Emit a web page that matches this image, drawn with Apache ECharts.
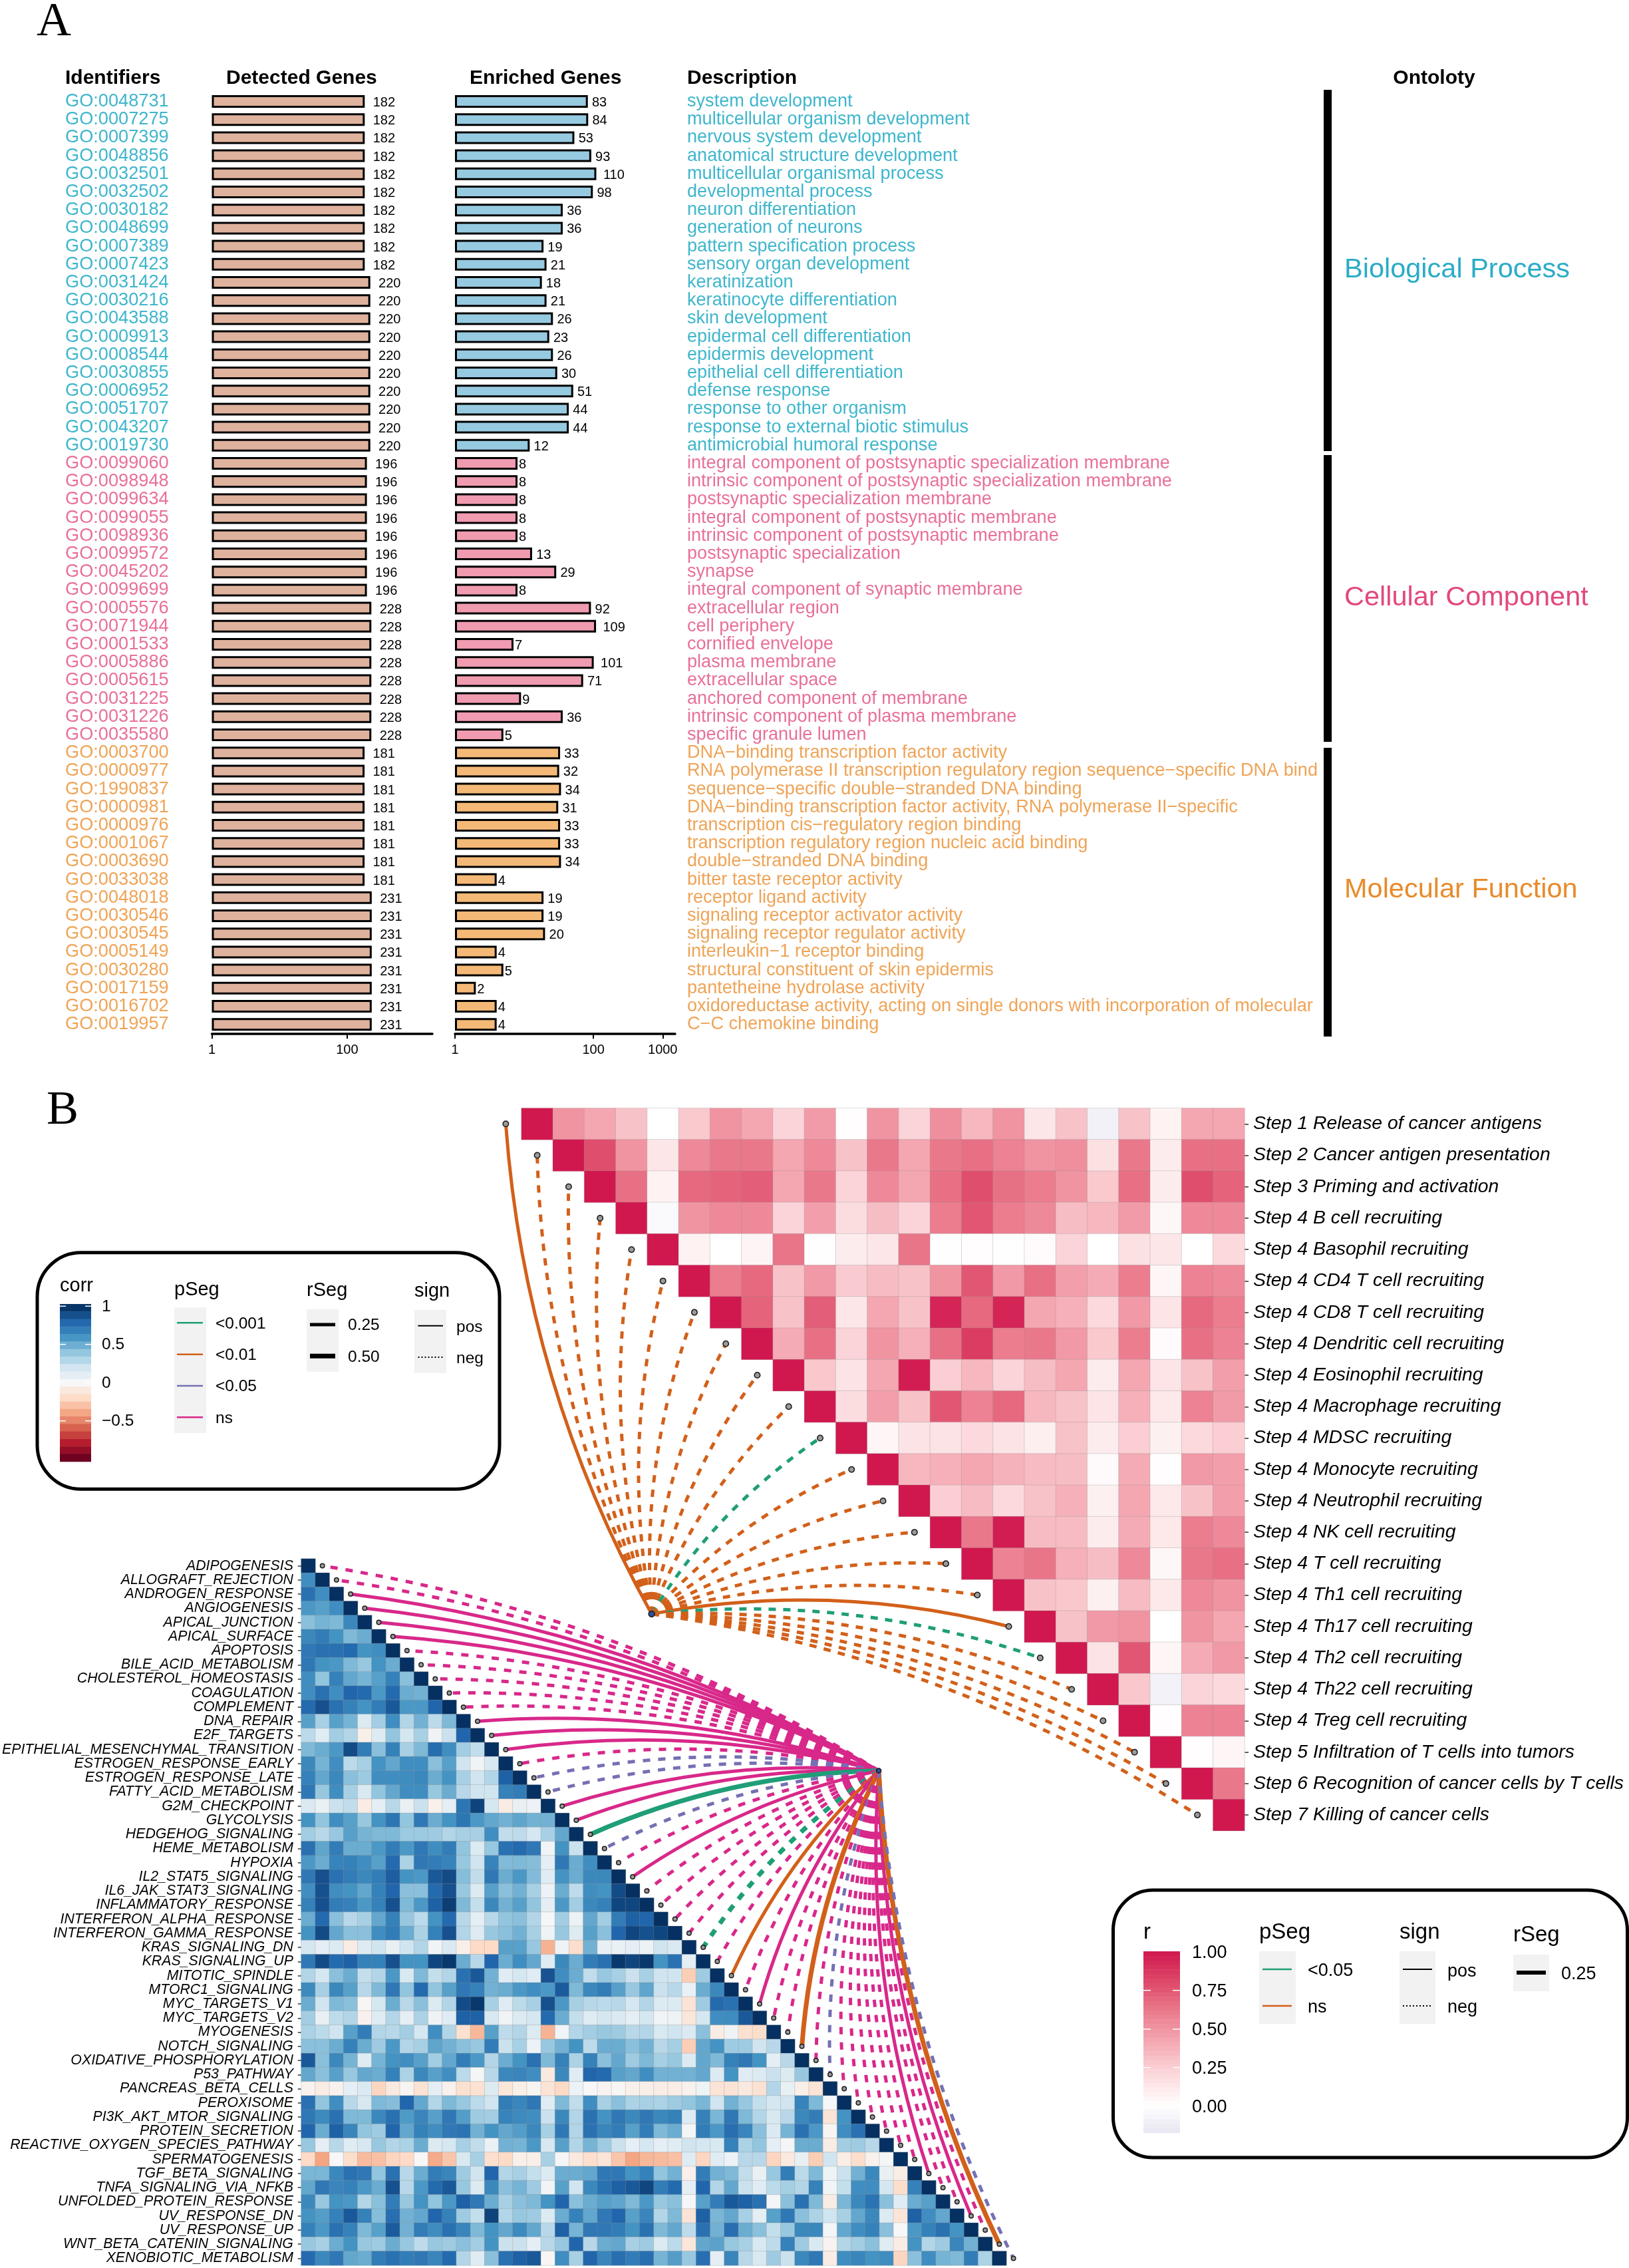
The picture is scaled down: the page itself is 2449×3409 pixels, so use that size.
<!DOCTYPE html>
<html><head><meta charset="utf-8">
<style>html,body{margin:0;padding:0;background:#fff}#c{width:2449px;height:3409px}</style>
<script src="https://cdn.jsdelivr.net/npm/echarts@6/dist/echarts.min.js"></script>
</head><body><div id="c"></div>
<script>
const identifiers=["GO:0048731","GO:0007275","GO:0007399","GO:0048856","GO:0032501","GO:0032502","GO:0030182","GO:0048699","GO:0007389","GO:0007423","GO:0031424","GO:0030216","GO:0043588","GO:0009913","GO:0008544","GO:0030855","GO:0006952","GO:0051707","GO:0043207","GO:0019730","GO:0099060","GO:0098948","GO:0099634","GO:0099055","GO:0098936","GO:0099572","GO:0045202","GO:0099699","GO:0005576","GO:0071944","GO:0001533","GO:0005886","GO:0005615","GO:0031225","GO:0031226","GO:0035580","GO:0003700","GO:0000977","GO:1990837","GO:0000981","GO:0000976","GO:0001067","GO:0003690","GO:0033038","GO:0048018","GO:0030546","GO:0030545","GO:0005149","GO:0030280","GO:0017159","GO:0016702","GO:0019957"];
const detectedGenes=[182,182,182,182,182,182,182,182,182,182,220,220,220,220,220,220,220,220,220,220,196,196,196,196,196,196,196,196,228,228,228,228,228,228,228,228,181,181,181,181,181,181,181,181,231,231,231,231,231,231,231,231];
const enrichedGenes=[83,84,53,93,110,98,36,36,19,21,18,21,26,23,26,30,51,44,44,12,8,8,8,8,8,13,29,8,92,109,7,101,71,9,36,5,33,32,34,31,33,33,34,4,19,19,20,4,5,2,4,4];
const descriptions=["system development","multicellular organism development","nervous system development","anatomical structure development","multicellular organismal process","developmental process","neuron differentiation","generation of neurons","pattern specification process","sensory organ development","keratinization","keratinocyte differentiation","skin development","epidermal cell differentiation","epidermis development","epithelial cell differentiation","defense response","response to other organism","response to external biotic stimulus","antimicrobial humoral response","integral component of postsynaptic specialization membrane","intrinsic component of postsynaptic specialization membrane","postsynaptic specialization membrane","integral component of postsynaptic membrane","intrinsic component of postsynaptic membrane","postsynaptic specialization","synapse","integral component of synaptic membrane","extracellular region","cell periphery","cornified envelope","plasma membrane","extracellular space","anchored component of membrane","intrinsic component of plasma membrane","specific granule lumen","DNA−binding transcription factor activity","RNA polymerase II transcription regulatory region sequence−specific DNA binding","sequence−specific double−stranded DNA binding","DNA−binding transcription factor activity, RNA polymerase II−specific","transcription cis−regulatory region binding","transcription regulatory region nucleic acid binding","double−stranded DNA binding","bitter taste receptor activity","receptor ligand activity","signaling receptor activator activity","signaling receptor regulator activity","interleukin−1 receptor binding","structural constituent of skin epidermis","pantetheine hydrolase activity","oxidoreductase activity, acting on single donors with incorporation of molecular oxygen","C−C chemokine binding"];
const ontologyNames=["Biological Process","Cellular Component","Molecular Function"];
const ontologySizes=[20,16,16];
const stepNames=["Step 1 Release of cancer antigens","Step 2 Cancer antigen presentation","Step 3 Priming and activation","Step 4 B cell recruiting","Step 4 Basophil recruiting","Step 4 CD4 T cell recruiting","Step 4 CD8 T cell recruiting","Step 4 Dendritic cell recruiting","Step 4 Eosinophil recruiting","Step 4 Macrophage recruiting","Step 4 MDSC recruiting","Step 4 Monocyte recruiting","Step 4 Neutrophil recruiting","Step 4 NK cell recruiting","Step 4 T cell recruiting","Step 4 Th1 cell recruiting","Step 4 Th17 cell recruiting","Step 4 Th2 cell recruiting","Step 4 Th22 cell recruiting","Step 4 Treg cell recruiting","Step 5 Infiltration of T cells into tumors","Step 6 Recognition of cancer cells by T cells","Step 7 Killing of cancer cells"];
// upper triangle, each row starts right after the diagonal
const stepCorr=[
[.5,.42,.3,0,.27,.5,.42,.22,.47,.01,.5,.22,.52,.35,.5,.13,.3,-.1,.3,.07,.42,.42],
[.78,.5,.13,.55,.62,.62,.42,.55,.3,.62,.42,.62,.65,.58,.5,.52,.16,.62,.1,.65,.65],
[.65,.07,.68,.7,.72,.42,.62,.22,.55,.42,.65,.78,.65,.6,.5,.27,.65,.1,.78,.7],
[-.04,.5,.55,.55,.22,.45,.18,.32,.22,.6,.75,.6,.55,.32,.35,.47,.04,.55,.55],
[.07,0,.06,.63,-.01,.1,.13,.63,-.01,.01,-.01,.02,.22,0,.16,.13,0,.2],
[.6,.68,.3,.48,.26,.33,.3,.5,.75,.48,.65,.45,.4,.6,.05,.58,.55],
[.7,.3,.72,.13,.42,.3,.95,.68,.95,.42,.38,.2,.48,.14,.68,.6],
[.4,.65,.22,.5,.38,.65,.85,.6,.62,.48,.27,.6,.02,.65,.58],
[.28,.15,.42,.98,.25,.35,.22,.32,.42,.1,.42,.14,.3,.45],
[.18,.45,.3,.75,.58,.68,.35,.3,.14,.38,.12,.58,.47],
[.05,.15,.15,.2,.15,.09,.3,.1,.25,.08,.2,.25],
[.35,.38,.42,.37,.33,.32,.03,.4,.01,.48,.45],
[.25,.33,.2,.3,.38,.08,.42,.12,.3,.45],
[.62,.98,.33,.33,.1,.4,.12,.6,.55],
[.58,.63,.38,.32,.55,.04,.62,.65],
[.3,.28,.08,.33,.12,.55,.5],
[.3,.48,.5,0,.5,.42],
[.15,.75,.05,.4,.48],
[.28,-.09,.22,.2],
[.01,.58,.58],
[.01,.05],
[.62],
[]];
const stepP=["ns","ns","ns","ns","ns","ns","ns","ns","ns","ns","<0.05","ns","ns","ns","ns","ns","ns","<0.05","ns","ns","ns","ns","ns"];
const stepSign=["pos","neg","neg","neg","neg","neg","neg","neg","neg","neg","neg","neg","neg","neg","neg","neg","pos","neg","neg","neg","neg","neg","neg"];
const stepHub=[3.64,15.6];
const hallmarks=["ADIPOGENESIS","ALLOGRAFT_REJECTION","ANDROGEN_RESPONSE","ANGIOGENESIS","APICAL_JUNCTION","APICAL_SURFACE","APOPTOSIS","BILE_ACID_METABOLISM","CHOLESTEROL_HOMEOSTASIS","COAGULATION","COMPLEMENT","DNA_REPAIR","E2F_TARGETS","EPITHELIAL_MESENCHYMAL_TRANSITION","ESTROGEN_RESPONSE_EARLY","ESTROGEN_RESPONSE_LATE","FATTY_ACID_METABOLISM","G2M_CHECKPOINT","GLYCOLYSIS","HEDGEHOG_SIGNALING","HEME_METABOLISM","HYPOXIA","IL2_STAT5_SIGNALING","IL6_JAK_STAT3_SIGNALING","INFLAMMATORY_RESPONSE","INTERFERON_ALPHA_RESPONSE","INTERFERON_GAMMA_RESPONSE","KRAS_SIGNALING_DN","KRAS_SIGNALING_UP","MITOTIC_SPINDLE","MTORC1_SIGNALING","MYC_TARGETS_V1","MYC_TARGETS_V2","MYOGENESIS","NOTCH_SIGNALING","OXIDATIVE_PHOSPHORYLATION","P53_PATHWAY","PANCREAS_BETA_CELLS","PEROXISOME","PI3K_AKT_MTOR_SIGNALING","PROTEIN_SECRETION","REACTIVE_OXYGEN_SPECIES_PATHWAY","SPERMATOGENESIS","TGF_BETA_SIGNALING","TNFA_SIGNALING_VIA_NFKB","UNFOLDED_PROTEIN_RESPONSE","UV_RESPONSE_DN","UV_RESPONSE_UP","WNT_BETA_CATENIN_SIGNALING","XENOBIOTIC_METABOLISM"];
// lower triangle, each row stops just before the diagonal
const hallmarkCorr=[
[],
[.62],
[.75,.62],
[.58,.55,.62],
[.42,.47,.45,.65],
[.65,.7,.6,.45,.5],
[.72,.75,.75,.78,.6,.62],
[.72,.6,.58,.45,.38,.6,.5],
[.62,.4,.68,.52,.47,.55,.68,.42],
[.62,.75,.62,.8,.78,.58,.78,.5,.48],
[.78,.88,.75,.68,.6,.7,.85,.58,.58,.8],
[.55,.33,.55,.47,.14,.35,.62,.3,.48,.27,.45],
[.27,.12,.35,.3,-.06,.13,.4,.18,.33,.04,.22,.8],
[.45,.5,.58,.9,.7,.42,.68,.33,.45,.77,.62,.35,.25],
[.65,.47,.62,.27,.33,.6,.52,.62,.62,.42,.55,.2,.03,.16],
[.68,.52,.65,.42,.37,.62,.62,.63,.65,.5,.6,.33,.2,.3,.82],
[.72,.38,.62,.33,.16,.4,.52,.62,.62,.38,.5,.28,.2,.2,.68,.7],
[.15,.07,.22,.25,-.08,.1,.28,.08,.22,-.05,.1,.73,.93,.18,-.08,.08,.06],
[.6,.4,.62,.55,.38,.6,.73,.4,.72,.5,.6,.73,.58,.52,.48,.53,.48,.48],
[.35,.28,.38,.55,.47,.45,.45,.37,.37,.36,.3,.33,.33,.62,.25,.26,.18,.33,.52],
[.75,.53,.7,.5,.5,.58,.7,.58,.72,.62,.7,.4,.14,.38,.75,.78,.72,.03,.6,.22],
[.58,.5,.67,.68,.62,.55,.78,.32,.72,.7,.67,.38,.2,.67,.44,.45,.43,.1,.72,.5,.62],
[.72,.88,.75,.7,.65,.7,.83,.6,.58,.85,.9,.43,.25,.72,.5,.58,.44,.12,.6,.5,.65,.65],
[.62,.88,.62,.6,.52,.68,.8,.42,.42,.78,.88,.38,.14,.55,.42,.48,.33,.06,.5,.26,.62,.6,.9],
[.68,.88,.7,.68,.58,.68,.88,.45,.58,.82,.95,.45,.24,.65,.48,.55,.4,.1,.58,.35,.65,.68,.92,.92],
[.5,.78,.42,.28,.33,.52,.68,.38,.27,.6,.78,.28,.1,.28,.4,.42,.3,.01,.35,.06,.52,.35,.7,.82,.8],
[.6,.9,.52,.42,.42,.62,.7,.5,.32,.68,.88,.3,.13,.38,.42,.48,.33,.05,.38,.13,.55,.42,.8,.92,.88,.92],
[.18,.1,.14,-.08,.13,.2,.08,.2,.3,.03,.15,-.06,-.2,-.2,.55,.55,.38,-.35,.04,-.18,.48,.08,.07,.1,.06,.2,.15],
[.72,.9,.78,.82,.68,.68,.88,.6,.6,.92,.97,.5,.28,.8,.5,.62,.52,.12,.65,.5,.7,.75,.97,.92,.97,.6,.75,.1],
[.3,.18,.42,.5,.24,.3,.58,.16,.45,.24,.3,.75,.85,.48,.12,.18,.12,.87,.62,.5,.25,.38,.33,.22,.33,.2,.2,-.25,.36],
[.64,.33,.65,.55,.28,.45,.72,.4,.78,.4,.55,.72,.68,.48,.5,.58,.62,.58,.84,.45,.65,.7,.55,.38,.53,.22,.28,.07,.5,.65],
[.5,.2,.45,.42,-.01,.18,.5,.28,.42,.14,.3,.9,.97,.33,.12,.27,.33,.88,.58,.33,.28,.27,.28,.18,.3,.14,.14,-.14,.36,.78,.75],
[.35,.08,.26,.3,-.04,.12,.3,.1,.32,.04,.12,.82,.82,.16,.03,.14,.18,.78,.5,.24,.12,.18,.15,.1,.18,.03,.05,-.12,.18,.62,.63,.85],
[.32,.27,.2,.55,.7,.3,.28,.35,.18,.62,.3,-.16,-.33,.55,.26,.3,.14,-.35,.03,.3,.35,.38,.36,.28,.3,.16,.2,.15,.42,-.08,.04,-.16,-.18],
[.42,.42,.5,.68,.5,.36,.58,.3,.33,.53,.48,.42,.38,.7,.22,.33,.06,.38,.48,.6,.26,.5,.5,.42,.48,.28,.34,-.25,.52,.6,.36,.36,.2,.28],
[.85,.42,.65,.47,.12,.47,.6,.62,.55,.35,.52,.7,.58,.3,.5,.6,.75,.45,.68,.32,.68,.42,.52,.36,.45,.34,.38,.14,.52,.45,.68,.72,.6,.1,.28],
[.52,.42,.55,.38,.52,.5,.68,.32,.65,.55,.62,.27,.02,.28,.65,.66,.62,-.1,.65,.12,.8,.78,.55,.52,.62,.48,.48,.48,.52,.14,.6,.12,.14,.22,.14,.38],
[-.04,-.08,-.04,.1,.15,-.22,-.1,-.02,-.15,.1,-.04,-.16,-.15,.14,-.12,-.06,-.02,-.14,-.2,.06,0,-.03,-.01,-.05,-.06,-.07,-.07,-.04,.05,-.14,-.14,-.1,-.15,.3,.08,-.06,-.14],
[.75,.4,.62,.28,.17,.45,.43,.8,.52,.3,.45,.38,.27,.2,.7,.66,.72,.12,.45,.25,.62,.33,.42,.32,.33,.32,.36,.4,.46,.2,.48,.38,.24,.18,.2,.67,.45,.01],
[.72,.64,.75,.45,.45,.65,.75,.57,.66,.55,.72,.56,.36,.35,.67,.64,.62,.22,.65,.3,.75,.6,.72,.65,.72,.65,.68,.14,.68,.46,.72,.45,.3,.17,.28,.65,.7,-.14,.6],
[.8,.5,.82,.66,.4,.36,.8,.52,.68,.62,.72,.74,.48,.6,.52,.56,.65,.33,.72,.3,.75,.66,.7,.55,.7,.45,.5,.02,.7,.58,.76,.66,.42,.15,.47,.75,.58,-.02,.62,.75],
[.38,.1,.28,.12,.17,.38,.3,.32,.5,.14,.18,.33,.25,.07,.48,.47,.58,.17,.55,.3,.47,.36,.22,.1,.18,.1,.12,.2,.18,.16,.68,.32,.4,.1,.02,.5,.5,-.08,.35,.36,.28],
[-.2,-.4,0,-.18,-.32,-.3,-.22,-.2,0,-.38,-.28,.16,.33,-.17,-.2,-.05,-.06,.33,.02,-.1,-.17,-.13,-.28,-.4,-.33,-.32,-.3,.12,-.22,.12,.06,.28,.28,-.22,-.1,.08,-.25,.2,-.07,-.18,-.04,.02],
[.46,.46,.65,.75,.72,.4,.75,.28,.5,.7,.66,.36,.2,.8,.3,.33,.24,.14,.5,.5,.52,.72,.72,.6,.68,.4,.48,-.05,.7,.48,.45,.25,.07,.38,.7,.27,.45,.05,.22,.48,.65,.08,-.07],
[.52,.72,.66,.68,.58,.5,.88,.28,.58,.78,.85,.38,.14,.65,.42,.47,.36,.03,.55,.2,.65,.75,.82,.85,.92,.7,.78,.1,.8,.3,.52,.22,.12,.27,.34,.3,.68,.03,.24,.62,.62,.18,-.18,.68],
[.65,.38,.6,.58,.3,.42,.7,.38,.6,.4,.58,.82,.72,.5,.33,.42,.45,.6,.8,.42,.5,.55,.53,.45,.58,.38,.42,.01,.55,.7,.85,.82,.75,.02,.42,.75,.45,-.08,.46,.65,.74,.42,.12,.5,.55],
[.6,.56,.68,.85,.68,.43,.76,.48,.52,.8,.68,.36,.24,.93,.3,.38,.36,.14,.5,.68,.52,.72,.8,.55,.66,.3,.45,-.14,.82,.46,.52,.33,.1,.55,.72,.42,.32,.2,.33,.52,.65,.14,-.13,.82,.62,.52],
[.68,.58,.75,.68,.45,.55,.84,.48,.7,.63,.75,.66,.45,.6,.52,.64,.52,.28,.82,.47,.72,.72,.7,.6,.75,.45,.52,.26,.75,.48,.76,.5,.42,.24,.38,.65,.65,.02,.52,.62,.68,.42,0,.58,.68,.75,.6],
[.38,.33,.5,.6,.38,.36,.5,.38,.26,.38,.36,.42,.35,.6,.22,.22,.1,.28,.38,.8,.28,.5,.52,.33,.36,.14,.27,-.12,.52,.54,.38,.33,.16,.26,.68,.36,.16,-.03,.3,.35,.42,.12,-.08,.6,.3,.36,.66,.48],
[.78,.65,.72,.52,.5,.7,.75,.7,.72,.66,.78,.3,.12,.42,.75,.82,.85,-.01,.62,.33,.8,.66,.76,.7,.76,.47,.56,.38,.76,.1,.66,.28,.16,.36,.22,.65,.72,-.08,.62,.66,.6,.62,-.22,.42,.62,.47,.45,.7,.32]];
const hallmarkP=["ns","ns","ns","ns","ns","ns","ns","ns","ns","ns","ns","ns","ns","ns","ns","<0.05","<0.05","ns","ns","<0.001","<0.05","ns","ns","ns","ns","ns","ns","<0.001","ns","<0.01","ns","ns","ns","ns","<0.01","ns","<0.05","ns","ns","ns","ns","ns","ns","ns","ns","ns","ns","ns","<0.01","<0.05"];
const hallmarkSign=["neg","neg","pos","pos","pos","pos","neg","neg","neg","neg","neg","pos","pos","pos","neg","neg","neg","pos","pos","pos","neg","neg","pos","neg","neg","neg","neg","neg","neg","pos","neg","pos","neg","neg","pos","neg","neg","neg","neg","neg","neg","neg","neg","pos","neg","neg","pos","neg","pos","neg"];
const hallmarkR=["0.25","0.25","0.25","0.25","0.25","0.25","0.25","0.25","0.25","0.25","0.25","0.25","0.25","0.25","0.25","0.25","0.25","0.25","0.25","0.50","0.25","0.25","0.25","0.25","0.25","0.25","0.25","0.50","0.25","0.25","0.25","0.25","0.25","0.25","0.50","0.25","0.25","0.25","0.25","0.25","0.25","0.25","0.25","0.25","0.25","0.25","0.25","0.25","0.50","0.25"];
const hallmarkHub=[40.45,14.5];

const FONT='"Liberation Sans",Arial,sans-serif';
const ontologyColors=["#2BACC6","#E2497F","#E88B2B"];
const idColors=["#3FB6CC","#E8709A","#EFA457"];
const enrichedFill=["#96CAE0","#F09BB0","#F4B977"];
const pColors={"<0.001":"#1F9E77","<0.05":"#7570B3","<0.01":"#D2601A","ns":"#D8288A"};
const stepPColors={"<0.05":"#1F9E77","ns":"#D2601A"};
const RDBU=["#67001F","#B2182B","#D6604D","#F4A582","#FDDBC7","#F7F7F7","#D1E5F0","#92C5DE","#4393C3","#2166AC","#053061"];
const PINK=["#E4E2F0","#FFFFFF","#FBD9DC","#F5ABB5","#EB7D8F","#DE4A69","#D0184F"];

function groupOf(i){let s=0;for(let g=0;g<ontologySizes.length;g++){s+=ontologySizes[g];if(i<s)return g;}return 2;}
function mix(stops,t){t=Math.max(0,Math.min(1,t));const p=t*(stops.length-1),k=Math.min(Math.floor(p),stops.length-2),f=p-k;
 const h=s=>[1,3,5].map(o=>parseInt(s.substr(o,2),16));const a=h(stops[k]),b=h(stops[k+1]);
 return "rgb("+a.map((v,n)=>Math.round(v+(b[n]-v)*f)).join(",")+")";}

/* ---------- static page furniture ---------- */
const G=[];
function T(text,x,y,size,o){o=o||{};G.push({type:'text',x,y:y+2,silent:true,z:50,style:{text,fill:o.fill||'#000',fontFamily:o.family||FONT,fontSize:size,fontWeight:o.weight||'normal',textAlign:o.align||'left',textVerticalAlign:'middle'}});}
function R(x,y,w,h,fill){G.push({type:'rect',silent:true,z:40,shape:{x,y,width:w,height:h},style:{fill}});}
function L(x1,y1,x2,y2,stroke,lw,dash){G.push({type:'line',silent:true,z:45,shape:{x1,y1,x2,y2},style:{stroke,lineWidth:lw,lineDash:dash||null}});}
function Frame(x,y,w,h,r){G.push({type:'rect',silent:true,z:39,shape:{x,y,width:w,height:h,r},style:{fill:'none',stroke:'#000',lineWidth:5}});}

T("A",55,32,72,{family:'"Liberation Serif",serif'});
T("B",70,1668,72,{family:'"Liberation Serif",serif'});
[["Identifiers",98],["Detected Genes",340],["Enriched Genes",706],["Description",1033]].forEach(h=>T(h[0],h[1],116,30,{weight:'bold'}));
T("Ontoloty",2156,116,30,{weight:'bold',align:'center'});
[[135,678],[684,1115],[1124,1558]].forEach(s=>R(1990,s[0],12,s[1]-s[0],'#000'));
[404,897,1336].forEach((y,i)=>T(ontologyNames[i],2021,y,41.5,{fill:ontologyColors[i]}));

/* left legend */
Frame(56,1882.7,695,355.6,66);
T("corr",90,1931,29);
(function(){const x=90,w=47,top=1960,h=236.7,n=21;for(let i=0;i<n;i++){const v=1.03-2.06*(i+.5)/n;R(x,top+h*i/n,w,h/n+.6,mix(RDBU,(v+1)/2));}
 [["1",1963.3],["0.5",2020.7],["0",2078.3],["−0.5",2135.7]].forEach(a=>{L(x,a[1],x+9,a[1],'#fff',1.5);L(x+w-9,a[1],x+w,a[1],'#fff',1.5);T(a[0],153,a[1]-1,24.5);});})();
T("pSeg",262,1937,29);R(262,1965.3,48,188.7,'#F2F2F2');
[["<0.001",1988.3],["<0.01",2035.7],["<0.05",2083],["ns",2130.3]].forEach(a=>{L(266,a[1],305,a[1],pColors[a[0]],2.5);T(a[0],324,a[1]-.5,24.5);});
T("rSeg",461,1938,29);R(461,1967.7,48,94,'#F2F2F2');
[["0.25",1991,5],["0.50",2038.3,7]].forEach(a=>{L(466,a[1],504,a[1],'#000',a[2]);T(a[0],523,a[1]-.5,24.5);});
T("sign",623,1939,29);R(623,1969,48,94.7,'#F2F2F2');
L(628.5,1992.7,666,1992.7,'#000',2);L(628.5,2040,666,2040,'#000',2,[2,3]);
T("pos",686,1993,24.5);T("neg",686,2040,24.5);

/* right legend */
Frame(1673.5,2841,773,402,60);
T("r",1719,2903,33);
(function(){const x=1719,w=55,top=2933,h=272.7,n=40;for(let i=0;i<n;i++){const v=1.0-1.175*(i+.5)/n;R(x,top+h*i/n,w,h/n+.6,mix(PINK,(v+.2)/1.2));}
 [["1.00",2934],["0.75",2991.7],["0.50",3050],["0.25",3107.7],["0.00",3165.7]].forEach(a=>{if(a[0]!=="1.00"&&a[0]!=="0.00"){L(x,a[1],x+11,a[1],'#fff',1.5);L(x+w-11,a[1],x+w,a[1],'#fff',1.5);}T(a[0],1792,a[1],27);});})();
T("pSeg",1893,2903,33);R(1893,2933,55,109,'#F2F2F2');
[["<0.05",2960],["ns",3015]].forEach(a=>{L(1898,a[1],1942,a[1],stepPColors[a[0]],2.5);T(a[0],1966,a[1]+1,27);});
T("sign",2104,2903,33);R(2104,2933,54,109,'#F2F2F2');
L(2109,2960,2153,2960,'#000',2);L(2109,3015,2153,3015,'#000',2,[2,3]);
T("pos",2176,2962,27);T("neg",2176,3016,27);
T("rSeg",2275,2907,33);R(2275,2938,54,55,'#F2F2F2');
L(2280,2965,2324,2965,'#000',6);T("0.25",2347,2966,27);

/* ---------- marks ---------- */
function digitsGap(v){return 2+(String(v).length-1)*4.2;}
const hide={show:false};
function cats(d,extra){return Object.assign({type:'category',data:d,axisLine:{show:false,onZero:false},axisTick:hide,splitLine:hide,axisLabel:hide},extra||{});}
function logX(grid,max,ticks){return {type:'log',logBase:10,gridIndex:grid,min:1,max,position:'bottom',splitLine:hide,minorTick:hide,minorSplitLine:hide,
 axisLine:{show:true,onZero:false,lineStyle:{color:'#000',width:3.5}},
 axisTick:{show:true,length:8,lineStyle:{color:'#000',width:2},customValues:ticks},
 axisLabel:{show:true,color:'#000',fontSize:20,margin:15,fontFamily:FONT,customValues:ticks,formatter:v=>String(Math.round(v))}};}
function valHidden(grid,max,inverse){return {type:'value',gridIndex:grid,min:-.5,max,inverse:!!inverse,show:false,splitLine:hide,scale:true};}

const stepCells=[];stepCorr.forEach((row,i)=>{stepCells.push([i,i,1]);row.forEach((v,k)=>stepCells.push([i+1+k,i,v]));});
const hmCells=[];hallmarkCorr.forEach((row,i)=>{row.forEach((v,k)=>hmCells.push([k,i,v]));hmCells.push([i,i,1]);});
const stepPts=stepNames.map((_,i)=>[i-1,i]);
const hmPts=hallmarks.map((_,i)=>[i+1,i]);

function linkSeries(name,xi,yi,pts,hub,bow,colorOf,dashOf,widthOf,dash){
 return {type:'custom',name,coordinateSystem:'cartesian2d',xAxisIndex:xi,yAxisIndex:yi,clip:false,silent:true,z:5,data:pts,encode:{x:0,y:1},
  renderItem:function(params,api){const i=params.dataIndex;const a=api.coord(hub),b=api.coord([api.value(0),api.value(1)]);
   const dx=b[0]-a[0],dy=b[1]-a[1];const mx=(a[0]+b[0])/2,my=(a[1]+b[1])/2;
   return {type:'bezierCurve',shape:{x1:a[0],y1:a[1],x2:b[0],y2:b[1],cpx1:mx+bow*dy,cpy1:my-bow*dx},
    style:{fill:null,stroke:colorOf(i),lineWidth:widthOf(i),lineDash:dashOf(i)?dash:null}};}};
}
function pointSeries(xi,yi,pts,size){return {type:'scatter',xAxisIndex:xi,yAxisIndex:yi,clip:false,silent:true,z:8,symbolSize:size,data:pts,itemStyle:{color:'#9A9A9A',borderColor:'#1a1a1a',borderWidth:1.5,opacity:1}};}
function hubSeries(xi,yi,hub,size){return {type:'scatter',xAxisIndex:xi,yAxisIndex:yi,clip:false,silent:true,z:9,symbolSize:size,data:[hub],itemStyle:{color:'#2B4DA0',borderColor:'#1a1a1a',borderWidth:1.5,opacity:1}};}
const labelLift=[7,0,0,0];

const option={
 animation:false,backgroundColor:'#fff',textStyle:{fontFamily:FONT},graphic:{elements:G},
 grid:[
  {left:318.5,top:138.9,width:331.5,height:1414.4},
  {left:684,top:138.9,width:331,height:1414.4},
  {left:1033,top:138.9,width:953,height:1414.4},
  {left:784,top:1665.7,width:1087,height:1086},
  {left:452,top:2343,width:1061,height:1062}],
 xAxis:[
  logX(0,1820,[1,100]),
  logX(1,1514,[1,100,1000]),
  {type:'value',gridIndex:2,show:false,splitLine:hide},
  cats(stepNames,{gridIndex:3,position:'top'}),
  valHidden(3,22.5),
  cats(hallmarks,{gridIndex:4}),
  valHidden(4,49.5)],
 yAxis:[
  cats(identifiers,{gridIndex:0,inverse:true,axisLabel:{show:true,interval:0,align:'left',margin:220.5,fontSize:27.2,fontFamily:FONT,padding:labelLift,color:(v,i)=>idColors[groupOf(i)]}}),
  cats(identifiers,{gridIndex:1,inverse:true}),
  cats(descriptions,{gridIndex:2,inverse:true,axisLabel:{show:true,interval:0,align:'left',margin:0,fontSize:27.1,fontFamily:FONT,padding:labelLift,width:953,overflow:'truncate',ellipsis:'',color:(v,i)=>idColors[groupOf(i)]}}),
  cats(stepNames,{gridIndex:3,inverse:true,position:'right',axisTick:{show:true,length:6,alignWithLabel:true,lineStyle:{color:'#333',width:1.5}},axisLabel:{show:true,interval:0,margin:13,fontSize:28.4,fontStyle:'italic',color:'#000',fontFamily:FONT,padding:labelLift}}),
  valHidden(3,22.5,true),
  cats(hallmarks,{gridIndex:4,inverse:true,axisTick:{show:true,length:5,alignWithLabel:true,lineStyle:{color:'#333',width:1.5}},axisLabel:{show:true,interval:0,margin:12,fontSize:21.3,fontStyle:'italic',color:'#000',fontFamily:FONT,padding:[2,0,0,0]}}),
  valHidden(4,49.5,true)],
 visualMap:[
  {show:false,type:'continuous',seriesIndex:2,min:-.2,max:1,dimension:2,inRange:{color:PINK}},
  {show:false,type:'continuous',seriesIndex:3,min:-1,max:1,dimension:2,inRange:{color:RDBU}}],
 series:[
  {type:'bar',xAxisIndex:0,yAxisIndex:0,barWidth:19,silent:true,
   data:detectedGenes.map(v=>({value:v,label:{distance:digitsGap(v)+2}})),
   itemStyle:{color:'#DFB29E',borderColor:'#000',borderWidth:3},
   label:{show:true,position:'right',color:'#000',fontSize:20,fontFamily:FONT,offset:[0,2]}},
  {type:'bar',xAxisIndex:1,yAxisIndex:1,barWidth:19,silent:true,
   data:enrichedGenes.map(v=>({value:v,label:{distance:digitsGap(v)}})),
   itemStyle:{color:p=>enrichedFill[groupOf(p.dataIndex)],borderColor:'#000',borderWidth:3},
   label:{show:true,position:'right',color:'#000',fontSize:20,fontFamily:FONT,offset:[0,2]}},
  {type:'heatmap',xAxisIndex:3,yAxisIndex:3,data:stepCells,silent:true,itemStyle:{borderColor:'rgba(140,140,140,.28)',borderWidth:1}},
  {type:'heatmap',xAxisIndex:5,yAxisIndex:5,data:hmCells,silent:true,itemStyle:{borderColor:'rgba(140,140,140,.28)',borderWidth:1}},
  linkSeries('stepLinks',4,4,stepPts,stepHub,.11,i=>stepPColors[stepP[i]],i=>stepSign[i]==='neg',i=>5,[11,11]),
  pointSeries(4,4,stepPts,8.5),
  hubSeries(4,4,stepHub,9),
  linkSeries('hallmarkLinks',6,6,hmPts,hallmarkHub,-.1,i=>pColors[hallmarkP[i]],i=>hallmarkSign[i]==='neg',i=>hallmarkR[i]==='0.50'?7:5,[11,12]),
  pointSeries(6,6,hmPts,6.5),
  hubSeries(6,6,hallmarkHub,7)
 ]
};
const chart=echarts.init(document.getElementById('c'),null,{width:2449,height:3409});
chart.setOption(option);
</script></body></html>
